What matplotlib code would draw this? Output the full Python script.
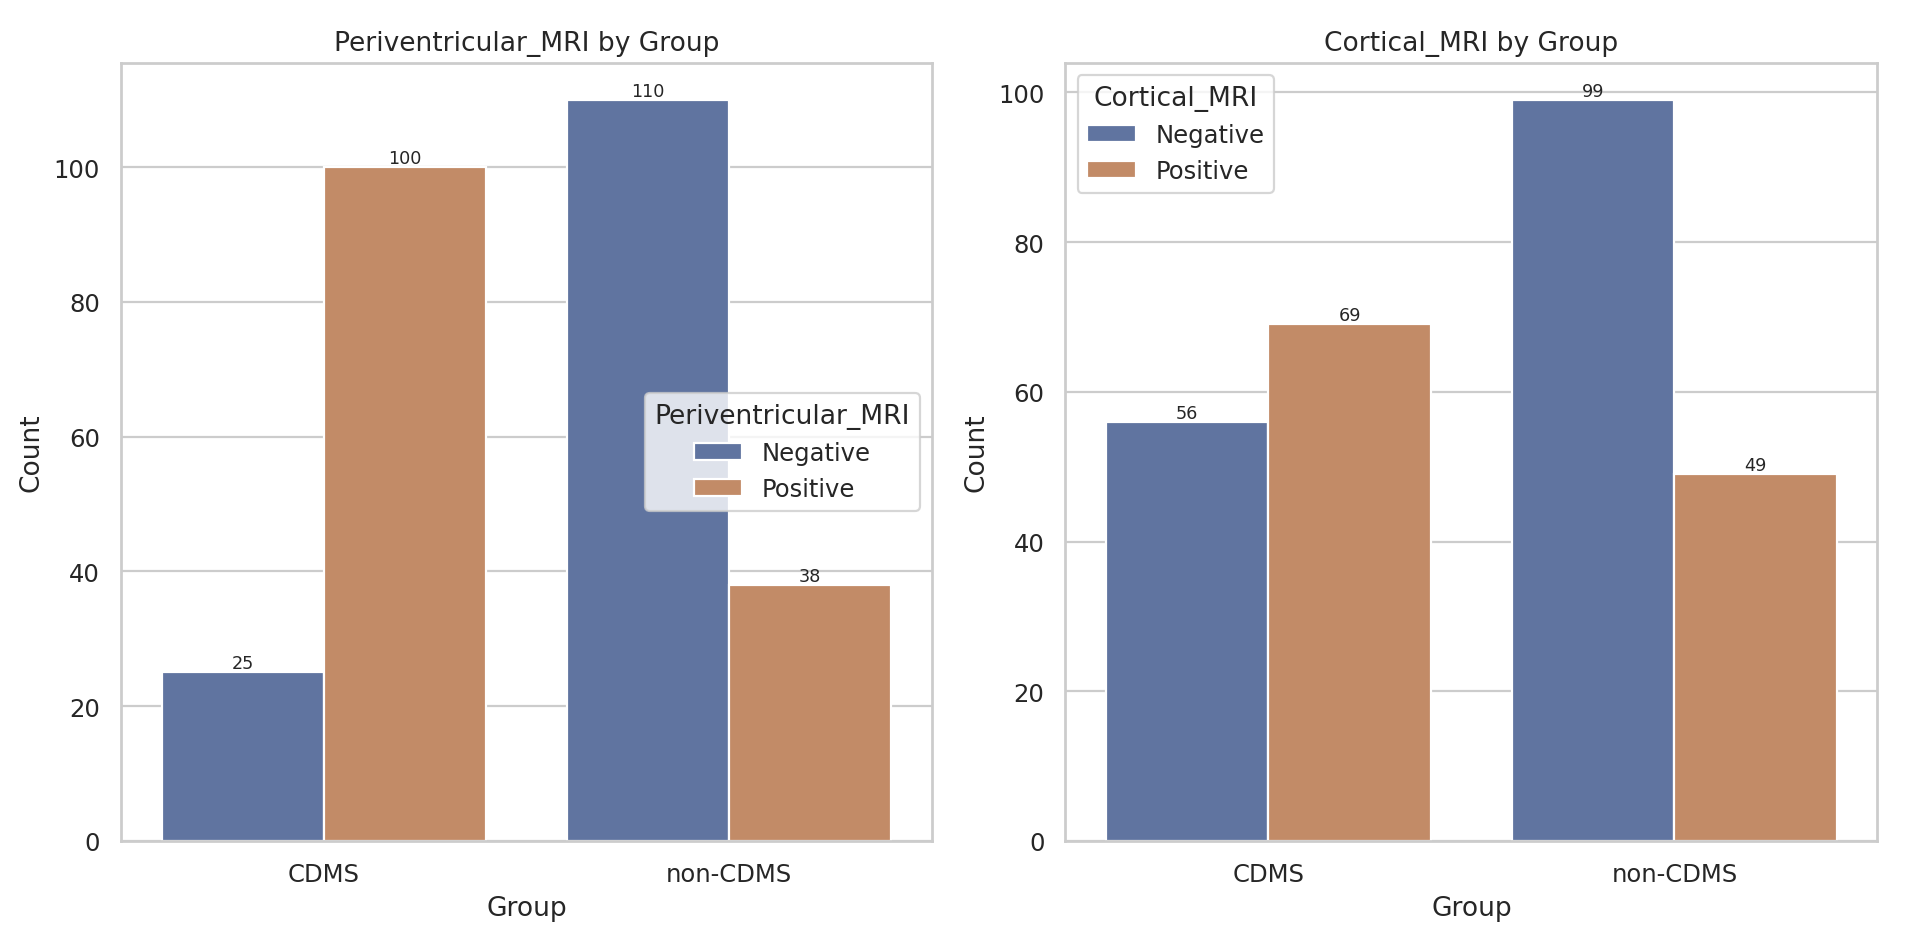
import matplotlib
matplotlib.use("Agg")
import matplotlib.pyplot as plt
import seaborn as sns
import pandas as pd

groups = ["CDMS", "non-CDMS"]
levels = ["Negative", "Positive"]
periventricular_counts = [[25, 100], [110, 38]]
cortical_counts = [[56, 69], [99, 49]]
bar_colors = ["#6074a0", "#c28b67"]

def make_frame(counts, name):
    rows = []
    for g, row in zip(groups, counts):
        for lvl, c in zip(levels, row):
            rows.append({"Group": g, name: lvl, "Count": c})
    return pd.DataFrame(rows)

sns.set_theme(style="whitegrid")
fig, axes = plt.subplots(1, 2, figsize=(12, 6), dpi=158.83)

panels = [
    ("Periventricular_MRI", periventricular_counts, "center right"),
    ("Cortical_MRI", cortical_counts, "upper left"),
]
for ax, (name, counts, loc) in zip(axes, panels):
    df = make_frame(counts, name)
    sns.barplot(data=df, x="Group", y="Count", hue=name, hue_order=levels,
                palette=bar_colors, saturation=1, ax=ax)
    for cont in ax.containers:
        ax.bar_label(cont, fontsize=8)
    ax.set_title(f"{name} by Group")
    ax.legend(title=name, loc=loc)

axes[0].set_position([0.0635, 0.1166, 0.4255, 0.8164])
axes[1].set_position([0.559, 0.1166, 0.426, 0.8164])
fig.savefig("out.png")
